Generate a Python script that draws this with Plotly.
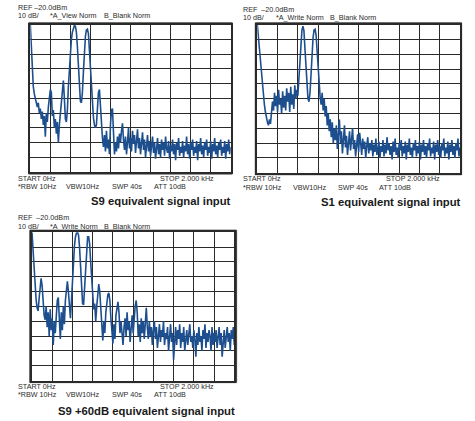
import plotly.graph_objects as go

# ---------------- data (dBm, one reading every 10 Hz from 0 Hz to 2000 Hz) ----------------
FREQ_STEP_HZ = 10
START_HZ = 0
STOP_HZ = 2000
REF_DBM = -20
DB_PER_DIV = 10
N_DIV = 10

s9_dbm = [
    -20, -37, -52, -62, -67, -71, -74, -76, -73, -80,
    -77, -84, -79, -88, -82, -96, -80, -86, -76, -70,
    -64, -66, -82, -78, -90, -84, -94, -86, -100, -88,
    -80, -70, -62, -58, -70, -84, -86, -78, -62, -48,
    -38, -30, -25, -22, -20.5, -21, -25, -35, -50, -66,
    -72, -73, -66, -52, -38, -28, -23.5, -23, -26, -38,
    -52, -64, -74, -83, -88, -90, -88, -76, -66, -64,
    -72, -86, -97, -103, -95, -106, -92, -104, -98, -108,
    -88, -78, -77, -90, -108, -100, -106, -96, -104, -94,
    -100, -92, -87, -98, -105, -96, -108, -100, -90, -104,
    -97, -106, -92, -101, -95, -107, -99, -91, -104, -97,
    -108, -100, -93, -105, -98, -110, -101, -95, -106, -99,
    -109, -102, -96, -107, -100, -111, -103, -97, -108, -101,
    -110, -98, -105, -100, -109, -96, -104, -107, -99, -111,
    -102, -106, -98, -108, -101, -112, -100, -105, -97, -109,
    -103, -107, -99, -110, -102, -106, -96, -108, -101, -111,
    -100, -105, -98, -109, -103, -107, -99, -112, -101, -106,
    -97, -108, -102, -110, -100, -105, -98, -109, -103, -107,
    -99, -111, -101, -106, -97, -108, -102, -110, -100, -105,
    -98, -109, -103, -107, -99, -111, -101, -106, -98, -108, -103,
]

s1_dbm = [
    -20, -28, -37, -46, -54, -61, -68, -74, -79, -83,
    -86, -88, -84, -87, -80, -72, -78, -66, -75, -68,
    -79, -64, -74, -70, -80, -65, -76, -68, -78, -63,
    -72, -66, -79, -62, -74, -67, -77, -61, -70, -64,
    -68, -58, -45, -32, -24, -21, -24, -36, -50, -62,
    -70, -72, -66, -54, -40, -29, -23.5, -23, -27, -38,
    -52, -63, -69, -74, -66, -78, -70, -82, -75, -88,
    -80, -92, -84, -96, -86, -100, -90, -98, -88, -104,
    -94, -84, -100, -92, -107, -96, -88, -103, -95, -108,
    -99, -92, -105, -97, -90, -104, -98, -109, -101, -94,
    -106, -93, -100, -108, -97, -104, -99, -110, -102, -96,
    -107, -100, -105, -98, -109, -101, -106, -97, -108, -103,
    -99, -110, -102, -106, -98, -109, -101, -107, -96, -105,
    -100, -108, -102, -111, -99, -106, -97, -108, -103, -110,
    -100, -105, -98, -109, -102, -107, -99, -111, -101, -106,
    -97, -108, -103, -110, -100, -105, -98, -109, -102, -107,
    -99, -111, -101, -106, -98, -108, -102, -110, -100, -105,
    -97, -109, -103, -107, -99, -111, -101, -106, -98, -108,
    -102, -110, -100, -105, -97, -109, -103, -107, -99, -111,
    -101, -106, -98, -108, -102, -110, -100, -105, -97, -109, -103,
]

s9_plus60_dbm = [
    -20, -33, -46, -57, -65, -71, -73, -65, -55, -51,
    -56, -68, -76, -79, -70, -84, -74, -90, -72, -86,
    -78, -96, -80, -88, -72, -66, -64, -78, -92, -74,
    -86, -70, -82, -66, -58, -53, -60, -72, -78, -66,
    -50, -38, -29, -23, -20.5, -20, -22, -30, -44, -58,
    -68, -69, -58, -42, -29, -23, -23, -28, -40, -54,
    -66, -72, -68, -80, -70, -60, -55, -60, -72, -84,
    -93, -80, -88, -74, -66, -62, -61, -66, -78, -88,
    -95, -82, -92, -76, -70, -67, -74, -88, -80, -92,
    -96, -84, -78, -90, -74, -86, -80, -94, -82, -76,
    -88, -78, -70, -66, -74, -90, -82, -94, -78, -88,
    -80, -92, -76, -71, -84, -92, -80, -90, -84, -96,
    -86, -80, -92, -84, -98, -88, -82, -94, -86, -90,
    -80, -96, -88, -92, -84, -100, -86, -82, -94, -88,
    -106, -90, -84, -96, -86, -92, -82, -98, -88, -94,
    -84, -100, -90, -86, -96, -88, -82, -94, -90, -98,
    -86, -92, -104, -88, -96, -84, -94, -90, -100, -86,
    -92, -82, -98, -88, -94, -86, -90, -100, -84, -96,
    -88, -94, -86, -98, -90, -84, -96, -88, -104, -92,
    -86, -98, -90, -84, -94, -88, -100, -86, -92, -84, -96,
]

titles = ["S9 equivalent signal input", "S1 equivalent signal input",
          "S9 +60dB equivalent signal input"]
ref_labels = ["REF \u201320.0dBm", "REF  \u201320.0dBm", "REF  \u201320.0dBm"]
trace_modes = ["*A_View Norm", "*A_Write Norm", "*A_Write Norm"]
blank_label = "B_Blank Norm"
scale_label = "10 dB/"
start_label = "START 0Hz"
stop_label = "STOP 2.000 kHz"
settings_labels = ["*RBW 10Hz", "VBW10Hz", "SWP 40s", "ATT 10dB"]

# ---------------- layout geometry (pixels) ----------------
W, H = 475, 421
panels = [
    dict(x0=30.3, x1=230.7, y0=24.7, y1=172.0, fx0=28.6, fx1=232.3, fy0=22.8, fy1=174.0,
         tx=16.7, ref_y=7.4, hdr_y=15.7, hdr_x=[16.7, 49.3, 103.3],
         start_y=178.3, stop_x=159.3, set_y=186.6, set_x=[16.7, 65.3, 111.0, 152.7],
         title_x=231.7, title_y=201.0),
    dict(x0=257.3, x1=460.0, y0=24.7, y1=172.7, fx0=255.3, fx1=461.6, fy0=22.8, fy1=174.7,
         tx=242.3, ref_y=9.2, hdr_y=17.5, hdr_x=[242.3, 274.7, 329.3],
         start_y=178.9, stop_x=385.0, set_y=187.2, set_x=[242.3, 291.7, 336.7, 378.3],
         title_x=461.7, title_y=201.7),
    dict(x0=32.0, x1=234.3, y0=232.3, y1=380.5, fx0=29.8, fx1=236.6, fy0=230.2, fy1=382.6,
         tx=16.7, ref_y=217.8, hdr_y=226.1, hdr_x=[16.7, 49.3, 103.3],
         start_y=386.6, stop_x=159.3, set_y=394.9, set_x=[16.7, 65.3, 111.0, 152.7],
         title_x=236.0, title_y=410.7),
]

def px(x):
    return x / W

def py(y):
    return 1 - y / H

series = [s9_dbm, s1_dbm, s9_plus60_dbm]
LINE_COLOR = "#1d4f8f"
GRID_COLOR = "#2a2a2a"
TEXT_COLOR = "#2b2b2b"
FONT = "Liberation Sans, Arial, sans-serif"

fig = go.Figure()
annotations = []
shapes = []

for k, (p, ys) in enumerate(zip(panels, series)):
    sfx = "" if k == 0 else str(k + 1)
    freqs = [START_HZ + i * FREQ_STEP_HZ for i in range(len(ys))]
    fig.add_trace(go.Scatter(
        x=freqs, y=ys, mode="lines", xaxis="x" + sfx, yaxis="y" + sfx,
        line=dict(color=LINE_COLOR, width=1.6), showlegend=False, hoverinfo="skip",
    ))
    fig.layout["xaxis" + sfx] = dict(
        domain=[px(p["x0"]), px(p["x1"])], range=[START_HZ, STOP_HZ],
        anchor="y" + sfx, dtick=(STOP_HZ - START_HZ) / N_DIV, tick0=0,
        showgrid=True, gridcolor=GRID_COLOR, gridwidth=1,
        showline=True, mirror=True, linecolor=GRID_COLOR, linewidth=1.5,
        showticklabels=False, ticks="", zeroline=False, fixedrange=True,
    )
    fig.layout["yaxis" + sfx] = dict(
        domain=[py(p["y1"]), py(p["y0"])],
        range=[REF_DBM - DB_PER_DIV * N_DIV, REF_DBM],
        anchor="x" + sfx, dtick=DB_PER_DIV, tick0=REF_DBM,
        showgrid=True, gridcolor=GRID_COLOR, gridwidth=1,
        showline=True, mirror=True, linecolor=GRID_COLOR, linewidth=1.5,
        showticklabels=False, ticks="", zeroline=False, fixedrange=True,
    )
    shapes.append(dict(type="rect", xref="paper", yref="paper",
                       x0=px(p["fx0"]), x1=px(p["fx1"]), y0=py(p["fy1"]), y1=py(p["fy0"]),
                       line=dict(color="#333333", width=1), fillcolor="rgba(0,0,0,0)",
                       layer="below"))

    def small(text, x, y):
        annotations.append(dict(
            text=text, x=px(x), y=py(y), xref="paper", yref="paper",
            xanchor="left", yanchor="middle", showarrow=False, borderpad=0,
            font=dict(family=FONT, size=7.2, color=TEXT_COLOR),
        ))

    small(ref_labels[k], p["tx"], p["ref_y"])
    small(scale_label, p["hdr_x"][0], p["hdr_y"])
    small(trace_modes[k], p["hdr_x"][1], p["hdr_y"])
    small(blank_label, p["hdr_x"][2], p["hdr_y"])
    small(start_label, p["tx"], p["start_y"])
    small(stop_label, p["stop_x"], p["start_y"])
    for lab, sx in zip(settings_labels, p["set_x"]):
        small(lab, sx, p["set_y"])
    annotations.append(dict(
        text="<b>" + titles[k] + "</b>", x=px(p["title_x"]), y=py(p["title_y"]),
        xref="paper", yref="paper", xanchor="right", yanchor="middle",
        showarrow=False, borderpad=0,
        font=dict(family=FONT, size=11.3, color="#1a1a1a"),
    ))

fig.update_layout(
    width=W, height=H, autosize=False,
    margin=dict(l=0, r=0, t=0, b=0),
    paper_bgcolor="white", plot_bgcolor="white",
    annotations=annotations, shapes=shapes,
    font=dict(family=FONT),
)

fig.write_html("out.html", config={"displayModeBar": False},
               post_script="document.body.style.margin='0';document.body.style.overflow='hidden';")
